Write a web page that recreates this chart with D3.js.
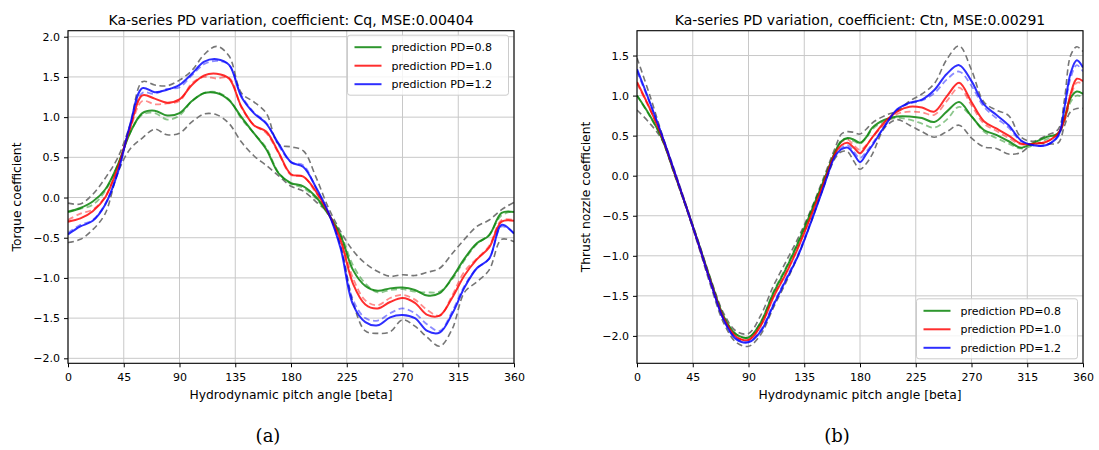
<!DOCTYPE html>
<html><head><meta charset="utf-8">
<script src="https://cdn.jsdelivr.net/npm/d3@7"></script>
<style>
body{margin:0;background:#fff;}
</style></head><body>
<svg id="chart" width="1099" height="450" font-family="DejaVu Sans"></svg>
<script>
// ---------- data ----------
const xTicks = [0,45,90,135,180,225,270,315,360];
const yTicksA = [-2.0,-1.5,-1.0,-0.5,0.0,0.5,1.0,1.5,2.0];
const yTicksB = [-2.0,-1.5,-1.0,-0.5,0.0,0.5,1.0,1.5];
const legendLabels = ["prediction PD=0.8","prediction PD=1.0","prediction PD=1.2"];
const titleA = "Ka-series PD variation, coefficient: Cq, MSE:0.00404";
const titleB = "Ka-series PD variation, coefficient: Ctn, MSE:0.00291";
const xLabel = "Hydrodynamic pitch angle [beta]";
const yLabelA = "Torque coefficient";
const yLabelB = "Thrust nozzle coefficient";
const captionA = "(a)";
const captionB = "(b)";

// panel (a): torque coefficient Cq
const anglesA = [0,10,20,30,40,50,60,70,80,90,100,110,120,130,140,150,160,170,180,190,200,210,220,230,240,250,260,270,280,290,300,310,320,330,340,350,360];
const cqGreen = [-0.18,-0.13,-0.05,0.10,0.40,0.80,1.05,1.08,1.02,1.05,1.20,1.30,1.30,1.21,1.00,0.80,0.60,0.30,0.18,0.14,0.01,-0.20,-0.47,-0.90,-1.10,-1.16,-1.13,-1.12,-1.15,-1.22,-1.19,-1.00,-0.76,-0.57,-0.47,-0.19,-0.18];
const cqRed = [-0.30,-0.26,-0.17,0.00,0.36,0.86,1.27,1.23,1.18,1.22,1.40,1.52,1.54,1.48,1.13,0.90,0.82,0.56,0.29,0.26,0.08,-0.19,-0.53,-1.07,-1.33,-1.38,-1.30,-1.25,-1.31,-1.46,-1.47,-1.25,-0.97,-0.77,-0.62,-0.30,-0.29];
const cqBlue = [-0.46,-0.36,-0.29,-0.09,0.30,0.90,1.36,1.31,1.34,1.40,1.54,1.69,1.72,1.65,1.25,1.05,0.92,0.67,0.44,0.38,0.13,-0.18,-0.63,-1.33,-1.55,-1.59,-1.49,-1.46,-1.50,-1.66,-1.68,-1.45,-1.12,-0.88,-0.76,-0.34,-0.45];
const cqGreenRef = [-0.17,-0.14,-0.09,0.08,0.40,0.80,1.03,1.05,0.97,1.02,1.20,1.30,1.31,1.22,0.98,0.80,0.62,0.31,0.17,0.12,-0.01,-0.21,-0.45,-0.84,-1.07,-1.18,-1.15,-1.14,-1.17,-1.18,-1.17,-1.02,-0.78,-0.58,-0.46,-0.22,-0.17];
const cqRedRef = [-0.28,-0.20,-0.15,0.01,0.38,0.84,1.20,1.16,1.17,1.20,1.42,1.50,1.48,1.49,1.12,0.90,0.80,0.55,0.28,0.26,0.06,-0.19,-0.50,-1.00,-1.28,-1.34,-1.25,-1.21,-1.27,-1.40,-1.47,-1.22,-0.92,-0.76,-0.60,-0.28,-0.28];
const cqBlueRef = [-0.44,-0.34,-0.28,-0.08,0.30,0.88,1.30,1.29,1.35,1.37,1.52,1.66,1.70,1.65,1.27,1.06,0.93,0.65,0.44,0.40,0.12,-0.18,-0.60,-1.27,-1.50,-1.53,-1.44,-1.38,-1.44,-1.58,-1.66,-1.42,-1.10,-0.88,-0.76,-0.36,-0.44];
const cqUpper = [-0.07,-0.08,0.04,0.24,0.49,0.90,1.44,1.40,1.39,1.46,1.58,1.78,1.88,1.76,1.30,1.19,1.05,0.66,0.63,0.58,0.26,-0.12,-0.42,-0.66,-0.82,-0.92,-0.98,-0.96,-0.97,-0.93,-0.88,-0.70,-0.52,-0.36,-0.28,-0.15,-0.06];
const cqLower = [-0.56,-0.52,-0.40,-0.20,0.30,0.60,0.74,0.85,0.78,0.80,0.94,1.04,1.03,0.92,0.69,0.52,0.40,0.27,0.14,0.08,-0.05,-0.20,-0.60,-1.30,-1.66,-1.69,-1.67,-1.52,-1.60,-1.74,-1.85,-1.64,-1.18,-1.05,-0.90,-0.52,-0.55];

// panel (b): thrust nozzle coefficient Ctn
const anglesB = [0,10,20,30,40,50,60,70,80,90,100,110,120,130,140,150,160,165,170,175,180,185,190,200,210,220,230,240,250,260,270,280,290,300,310,320,330,340,345,350,355,360];
const ctnGreen = [1.00,0.76,0.47,0.04,-0.40,-0.86,-1.33,-1.76,-1.98,-2.02,-1.83,-1.47,-1.17,-0.84,-0.47,-0.09,0.30,0.43,0.47,0.45,0.41,0.48,0.60,0.70,0.74,0.74,0.72,0.67,0.80,0.92,0.74,0.57,0.51,0.43,0.35,0.41,0.48,0.53,0.72,0.97,1.05,1.02];
const ctnRed = [1.17,0.85,0.49,0.05,-0.40,-0.87,-1.35,-1.78,-2.01,-2.05,-1.87,-1.52,-1.23,-0.90,-0.52,-0.12,0.28,0.38,0.41,0.35,0.28,0.37,0.48,0.67,0.80,0.86,0.85,0.80,0.99,1.16,0.92,0.68,0.59,0.50,0.40,0.40,0.42,0.53,0.70,1.02,1.21,1.18];
const ctnBlue = [1.33,0.93,0.51,0.06,-0.40,-0.87,-1.36,-1.80,-2.04,-2.08,-1.94,-1.62,-1.31,-1.00,-0.60,-0.17,0.25,0.33,0.35,0.27,0.17,0.27,0.38,0.62,0.83,0.91,0.95,1.07,1.27,1.38,1.18,0.89,0.76,0.63,0.44,0.38,0.38,0.50,0.85,1.28,1.44,1.35];
const ctnGreenRef = [1.00,0.75,0.47,0.04,-0.40,-0.86,-1.33,-1.76,-1.98,-2.02,-1.82,-1.45,-1.15,-0.82,-0.46,-0.08,0.30,0.44,0.46,0.43,0.40,0.47,0.58,0.68,0.72,0.70,0.65,0.60,0.70,0.86,0.74,0.55,0.47,0.40,0.34,0.38,0.45,0.52,0.68,0.92,1.00,0.98];
const ctnRedRef = [1.15,0.84,0.49,0.05,-0.40,-0.87,-1.35,-1.78,-2.01,-2.05,-1.86,-1.50,-1.21,-0.88,-0.51,-0.11,0.30,0.42,0.45,0.38,0.32,0.38,0.48,0.64,0.77,0.80,0.79,0.76,0.93,1.10,0.88,0.65,0.56,0.47,0.39,0.40,0.42,0.52,0.68,0.98,1.16,1.15];
const ctnBlueRef = [1.30,0.92,0.51,0.06,-0.40,-0.87,-1.36,-1.80,-2.03,-2.07,-1.92,-1.60,-1.29,-0.98,-0.58,-0.16,0.27,0.35,0.38,0.30,0.22,0.30,0.40,0.62,0.82,0.90,0.94,1.03,1.20,1.30,1.12,0.86,0.72,0.60,0.43,0.38,0.38,0.49,0.82,1.22,1.38,1.30];
const ctnUpper = [1.47,1.02,0.53,0.08,-0.38,-0.84,-1.31,-1.72,-1.94,-1.97,-1.74,-1.38,-1.08,-0.78,-0.44,-0.05,0.35,0.52,0.55,0.54,0.52,0.58,0.66,0.75,0.81,0.93,1.02,1.15,1.45,1.62,1.32,0.92,0.82,0.75,0.48,0.43,0.50,0.58,0.95,1.50,1.61,1.55];
const ctnLower = [0.82,0.66,0.45,0.02,-0.42,-0.90,-1.40,-1.84,-2.08,-2.13,-1.98,-1.65,-1.34,-1.00,-0.60,-0.17,0.22,0.30,0.30,0.18,0.08,0.15,0.27,0.60,0.70,0.63,0.55,0.48,0.55,0.63,0.47,0.36,0.34,0.27,0.29,0.40,0.40,0.41,0.62,0.80,0.84,0.84];

// ---------- layout & style ----------
const colors = {green:"#008000", red:"#ff0000", blue:"#0000ff", gray:"#767676"};
const panels = [
  {angles:anglesA, left:68, right:514, top:30.7, bottom:363.3, yDomain:[-2.062,2.075], yTicks:yTicksA,
   title:titleA, yLabel:yLabelA, caption:captionA, legend:"top",
   solid:[cqGreen,cqRed,cqBlue], ref:[cqGreenRef,cqRedRef,cqBlueRef], bounds:[cqUpper,cqLower]},
  {angles:anglesB, left:637, right:1083, top:30.7, bottom:363.3, yDomain:[-2.342,1.810], yTicks:yTicksB,
   title:titleB, yLabel:yLabelB, caption:captionB, legend:"bottom",
   solid:[ctnGreen,ctnRed,ctnBlue], ref:[ctnGreenRef,ctnRedRef,ctnBlueRef], bounds:[ctnUpper,ctnLower]}
];
const seriesColors = [colors.green, colors.red, colors.blue];

const svg = d3.select("#chart");
svg.append("rect").attr("width",1099).attr("height",450).attr("fill","#fff");

panels.forEach((p, pi) => {
  const x = d3.scaleLinear().domain([0,360]).range([p.left,p.right]);
  const y = d3.scaleLinear().domain(p.yDomain).range([p.bottom,p.top]);
  const g = svg.append("g");
  const clipId = "clip" + pi;
  svg.append("clipPath").attr("id",clipId).append("rect")
    .attr("x",p.left).attr("y",p.top).attr("width",p.right-p.left).attr("height",p.bottom-p.top);

  // grid
  g.append("g").selectAll("line").data(xTicks).join("line")
    .attr("x1",d=>x(d)).attr("x2",d=>x(d)).attr("y1",p.top).attr("y2",p.bottom)
    .attr("stroke","#c8c8c8").attr("stroke-width",1);
  g.append("g").selectAll("line").data(p.yTicks).join("line")
    .attr("x1",p.left).attr("x2",p.right).attr("y1",d=>y(d)).attr("y2",d=>y(d))
    .attr("stroke","#c8c8c8").attr("stroke-width",1);

  const line = d3.line().x((d,i)=>x(p.angles[i])).y(d=>y(d)).curve(d3.curveCatmullRom.alpha(0.5));
  const lines = g.append("g").attr("clip-path",`url(#${clipId})`);

  p.bounds.forEach(s => {
    lines.append("path").attr("d",line(s)).attr("fill","none")
      .attr("stroke",colors.gray).attr("stroke-width",1.6).attr("stroke-dasharray","6,3.5");
  });
  p.ref.forEach((s,i) => {
    lines.append("path").attr("d",line(s)).attr("fill","none")
      .attr("stroke",seriesColors[i]).attr("stroke-opacity",0.45).attr("stroke-width",1.8)
      .attr("stroke-dasharray","6,3.5");
  });
  p.solid.forEach((s,i) => {
    lines.append("path").attr("d",line(s)).attr("fill","none")
      .attr("stroke",seriesColors[i]).attr("stroke-opacity",0.82).attr("stroke-width",2);
  });

  // axes
  const xAxis = d3.axisBottom(x).tickValues(xTicks).tickSize(4).tickSizeOuter(0).tickPadding(6).tickFormat(d3.format("d"));
  const gx = g.append("g").attr("transform",`translate(0,${p.bottom})`).call(xAxis);
  const yAxis = d3.axisLeft(y).tickValues(p.yTicks).tickSize(4).tickSizeOuter(0).tickPadding(4).tickFormat(d3.format(".1f"));
  const gy = g.append("g").attr("transform",`translate(${p.left},0)`).call(yAxis);
  [gx,gy].forEach(a => {
    a.attr("font-family","DejaVu Sans").attr("font-size",11);
    a.select(".domain").remove();
    a.selectAll(".tick line").attr("stroke","#000").attr("stroke-width",1);
    a.selectAll(".tick text").attr("fill","#000");
  });

  // spines
  g.append("rect").attr("x",p.left).attr("y",p.top).attr("width",p.right-p.left).attr("height",p.bottom-p.top)
    .attr("fill","none").attr("stroke","#000").attr("stroke-width",1.1);

  // title & labels
  const cx = (p.left+p.right)/2;
  g.append("text").attr("x",cx).attr("y",24.5).attr("text-anchor","middle")
    .attr("font-size",14).attr("fill","#000").text(p.title);
  g.append("text").attr("x",cx).attr("y",399).attr("text-anchor","middle")
    .attr("font-size",12.3).attr("fill","#000").text(xLabel);
  g.append("text").attr("transform",`translate(${p.left-47},${(p.top+p.bottom)/2}) rotate(-90)`)
    .attr("text-anchor","middle").attr("font-size",12.3).attr("fill","#000").text(p.yLabel);
  g.append("text").attr("x",p.left+200).attr("y",442).attr("text-anchor","middle")
    .attr("font-family","DejaVu Serif").attr("font-size",18).attr("fill","#000").text(p.caption);

  // legend
  const lw = 161, lh = 60;
  const lx = p.right - 5.5 - lw;
  const ly = p.legend === "top" ? p.top + 4.5 : p.bottom - 4.5 - lh;
  const lg = g.append("g").attr("transform",`translate(${lx},${ly})`);
  lg.append("rect").attr("width",lw).attr("height",lh).attr("rx",2.5)
    .attr("fill","#fff").attr("fill-opacity",0.8).attr("stroke","#cccccc").attr("stroke-width",1);
  legendLabels.forEach((t,i) => {
    const yy = 12 + i*18.5;
    lg.append("line").attr("x1",7).attr("x2",34).attr("y1",yy).attr("y2",yy)
      .attr("stroke",seriesColors[i]).attr("stroke-opacity",0.82).attr("stroke-width",2);
    lg.append("text").attr("x",44).attr("y",yy).attr("dy","0.35em")
      .attr("font-size",11).attr("fill","#000").text(t);
  });
});
</script>
</body></html>
